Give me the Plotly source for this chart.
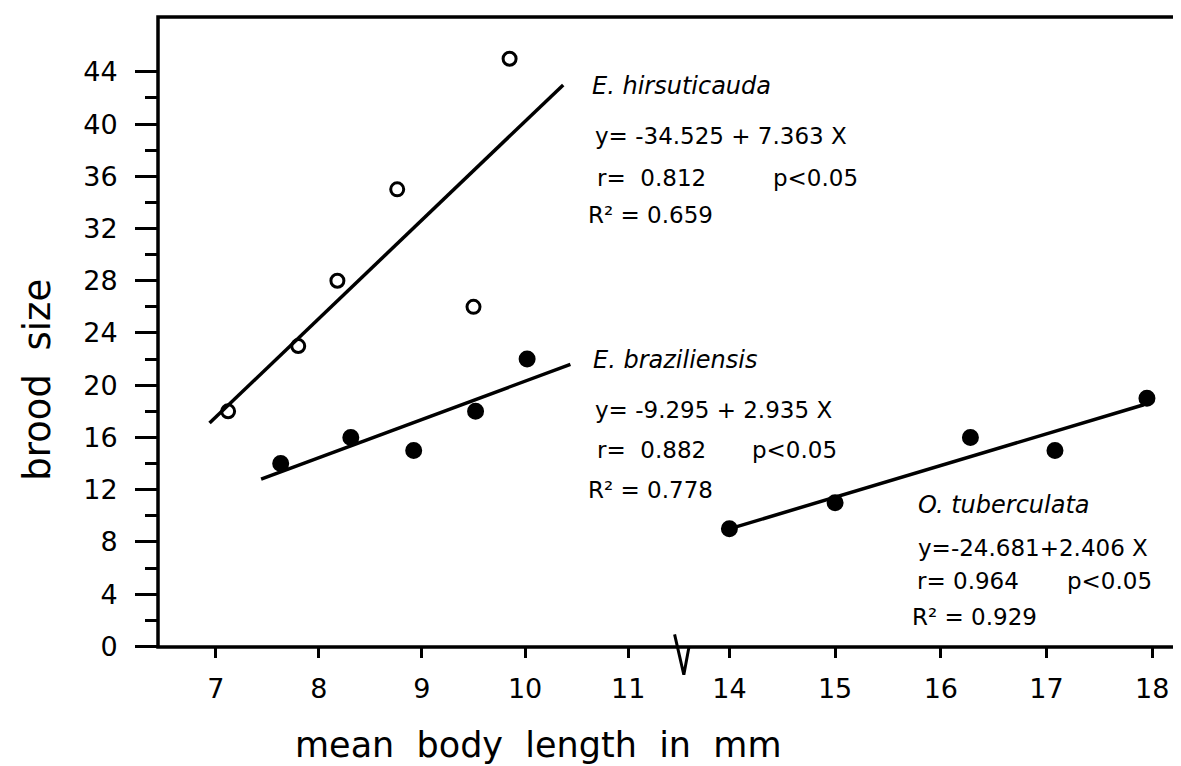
"""Brood size vs mean body length for three species, with a broken x axis."""

import plotly.graph_objects as go

# measured values
hirs_length = [7.12, 7.80, 8.18, 8.76, 9.50, 9.85]
hirs_brood = [18, 23, 28, 35, 26, 45]
braz_length = [7.63, 8.31, 8.92, 9.52, 10.02]
braz_brood = [14, 16, 15, 18, 22]
tub_length = [14.0, 15.0, 16.28, 17.08, 17.95]
tub_brood = [9, 11, 16, 15, 19]

# fitted lines (end points as drawn)
hirs_fit_length = [6.94, 10.37]
hirs_fit_brood = [17.1, 43.0]
braz_fit_length = [7.44, 10.44]
braz_fit_brood = [12.8, 21.6]
tub_fit_length = [14.0, 17.92]
tub_fit_brood = [9.0, 18.5]

left_ticks = [7, 8, 9, 10, 11]
right_ticks = [14, 15, 16, 17, 18]
y_major = [0, 4, 8, 12, 16, 20, 24, 28, 32, 36, 40, 44]
y_minor = [2, 6, 10, 14, 18, 22, 26, 30, 34, 38, 42]

FONT = "DejaVu Sans"
INK = "black"


def scatter(x, y, xaxis, open_marker):
    return go.Scatter(
        x=x, y=y, xaxis=xaxis, yaxis="y", mode="markers",
        marker=dict(
            size=13 if open_marker else 14,
            symbol="circle-open" if open_marker else "circle",
            color=INK,
            line=dict(width=3, color=INK),
        ),
        showlegend=False, hoverinfo="skip",
    )


def fit_line(x, y, xaxis):
    return go.Scatter(
        x=x, y=y, xaxis=xaxis, yaxis="y", mode="lines",
        line=dict(color=INK, width=3.5),
        showlegend=False, hoverinfo="skip",
    )


fig = go.Figure()
fig.add_trace(scatter(hirs_length, hirs_brood, "x", True))
fig.add_trace(scatter(braz_length, braz_brood, "x", False))
fig.add_trace(scatter(tub_length, tub_brood, "x2", False))
fig.add_trace(fit_line(hirs_fit_length, hirs_fit_brood, "x"))
fig.add_trace(fit_line(braz_fit_length, braz_fit_brood, "x"))
fig.add_trace(fit_line(tub_fit_length, tub_fit_brood, "x2"))

xtick_common = dict(
    ticks="outside", ticklen=10, tickwidth=2.5, tickcolor=INK,
    showgrid=False, zeroline=False, showline=False,
    tickfont=dict(family=FONT, size=27, color=INK),
    ticklabelstandoff=8,
)

fig.update_layout(
    width=1181, height=766,
    margin=dict(l=150, r=4, t=9, b=127),
    paper_bgcolor="white", plot_bgcolor="white",
    font=dict(family=FONT, color=INK),
    xaxis=dict(domain=[0, 0.508], range=[6.44, 11.5], anchor="y",
               tickmode="array", tickvals=left_ticks, **xtick_common),
    xaxis2=dict(domain=[0.508, 1], range=[13.53, 18.31], anchor="y",
                tickmode="array", tickvals=right_ticks, **xtick_common),
    yaxis=dict(
        range=[-0.05, 48.2], anchor="x",
        tickmode="array", tickvals=y_major,
        ticks="outside", ticklen=22, tickwidth=3, tickcolor=INK,
        minor=dict(tickmode="array", tickvals=y_minor, ticks="outside",
                   ticklen=12, tickwidth=3, tickcolor=INK, showgrid=False),
        showgrid=False, zeroline=False, showline=False,
        tickfont=dict(family=FONT, size=27, color=INK),
        ticklabelstandoff=12,
    ),
)

# frame and axis break mark
fig.add_shape(type="rect", xref="paper", yref="paper", x0=0, x1=1, y0=0, y1=1,
              line=dict(color=INK, width=3.5), layer="above")
fig.add_shape(type="path", xref="paper", yref="paper",
              path="M 0.503,0.02 L 0.512,-0.044 L 0.517,0.0",
              line=dict(color=INK, width=3))

# text blocks: (text, x, y, italic)
labels = [
    ("E. hirsuticauda", 0.4206, 0.8905, True),
    ("y= -34.525 + 7.363 X", 0.4236, 0.8111, False),
    ("r=  0.812", 0.4255, 0.7444, False),
    ("p&lt;0.05", 0.5969, 0.7444, False),
    ("R² = 0.659", 0.4167, 0.6857, False),
    ("E. braziliensis", 0.4216, 0.4556, True),
    ("y= -9.295 + 2.935 X", 0.4236, 0.3762, False),
    ("r=  0.882", 0.4255, 0.3127, False),
    ("p&lt;0.05", 0.5764, 0.3127, False),
    ("R² = 0.778", 0.4167, 0.2492, False),
    ("O. tuberculata", 0.7381, 0.2254, True),
    ("y=-24.681+2.406 X", 0.7381, 0.1571, False),
    ("r= 0.964", 0.7371, 0.1048, False),
    ("p&lt;0.05", 0.8832, 0.1048, False),
    ("R² = 0.929", 0.7322, 0.0476, False),
]
for text, x, y, italic in labels:
    fig.add_annotation(
        text=f"<i>{text}</i>" if italic else text,
        xref="paper", yref="paper", x=x, y=y,
        xanchor="left", yanchor="middle", showarrow=False,
        font=dict(family=FONT, size=24 if italic else 23, color=INK),
    )

fig.add_annotation(text="mean  body  length  in  mm", xref="paper", yref="paper",
                   x=0.37, y=-0.155, xanchor="center", yanchor="middle",
                   showarrow=False, font=dict(family=FONT, size=35, color=INK))
fig.add_annotation(text="brood  size", xref="paper", yref="paper",
                   x=-0.117, y=0.424, xanchor="center", yanchor="middle",
                   textangle=-90, showarrow=False,
                   font=dict(family=FONT, size=37, color=INK))

fig.write_html("out.html")
